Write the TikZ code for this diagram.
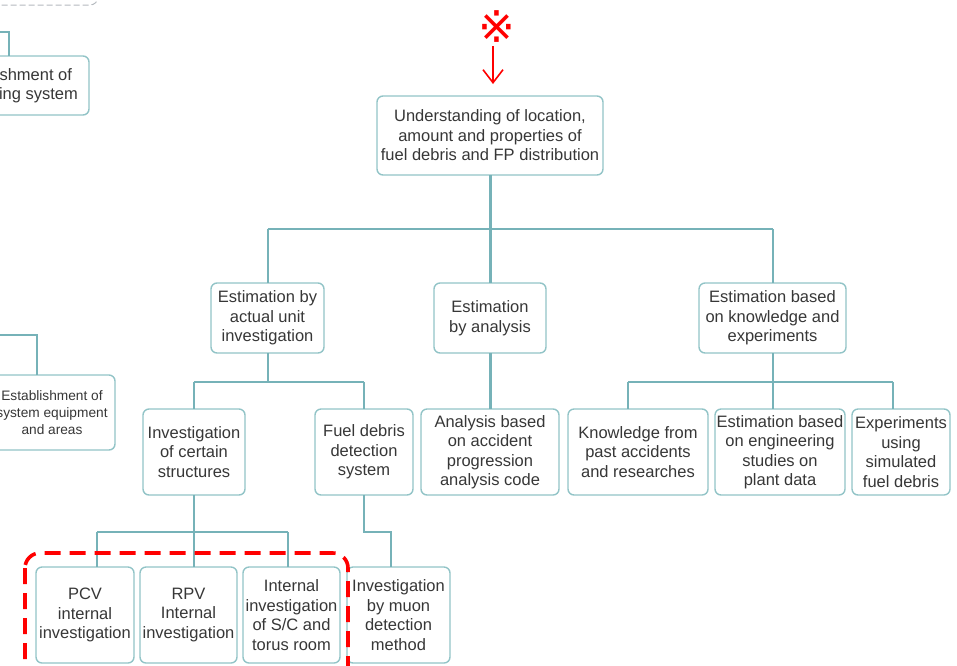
\documentclass[tikz,border=0pt]{standalone}
\usepackage{fontspec}
\setmainfont{Liberation Sans}
\newfontfamily\markfont{DejaVu Sans}
\usetikzlibrary{positioning,
                arrows.meta}
\definecolor{mteal}{RGB}{146,196,199}
\definecolor{mlink}{RGB}{118,178,184}
\definecolor{mtext}{RGB}{55,55,55}
\definecolor{mred}{RGB}{255,0,0}
\definecolor{mgray}{RGB}{180,185,190}
\tikzset{
    box/.style = {rectangle, draw=mteal, line width=1.4pt, rounded corners=6pt,
                  fill=white, text=mtext, align=center, inner sep=0pt, outer sep=0pt,
                  font=\fontsize{16.5}{19.5}\selectfont},
    smallbox/.style = {box, font=\fontsize{13.7}{17}\selectfont},
    link/.style = {draw=mlink, line width=2pt},
    trunk/.style = {draw=mlink, line width=3pt},
    focus/.style = {draw=mred, line width=3.6pt, dash pattern=on 16pt off 9pt,
                    rounded corners=15pt},
    pointer/.style = {draw=mred, line width=1.6pt, shorten <=3pt,
                      -{Straight Barb[length=13pt, width=20pt]}}
        }

\begin{document}
\begin{tikzpicture}[x=1pt, y=-1pt]
\useasboundingbox (0,0) rectangle (957,665);
\clip (0,0) rectangle (957,665);
% cut-off part on the left
\draw [mgray, line width=1pt, dash pattern=on 6pt off 3pt, rounded corners=8pt]
      (-20,-30) rectangle (98,5);
\node [box, minimum width=156pt, minimum height=59pt] (monitor) at (11,85.5)
      {Establishment of\\monitoring system};
\node [smallbox, minimum width=126pt, minimum height=75pt] (equip) at (52,412.5)
      {Establishment of\\system equipment\\and areas};
\coordinate (mc) at (9,32);
\coordinate (ec) at (37,335);
\draw [link] (-5,32) -- (mc) -- (mc |- monitor.north);
\draw [link] (-5,335) -- (ec) -- (ec |- equip.north);
% goal
\node [font=\markfont\fontsize{44}{44}\selectfont, text=mred, inner sep=0pt,
       anchor=south] (mark) at (497,43) {※};
\coordinate (tip) at (493,84);
\node [box, minimum width=226pt, minimum height=79pt] (goal) at (490,135.5)
      {Understanding of location,\\amount and properties of\\fuel debris and FP distribution};
\draw [pointer] (mark.south -| tip) -- (tip);
% level 1
\node [box, minimum width=113pt, minimum height=70pt] (actual) at (267.5,318)
      {Estimation by\\actual unit\\investigation};
\node [box, minimum width=112pt, minimum height=70pt, right=110pt of actual] (analysis)
      {Estimation\\by analysis};
\node [box, minimum width=147pt, minimum height=70pt, right=153pt of analysis] (knowledge)
      {Estimation based\\on knowledge and\\experiments};
% level 2
\node [box, minimum width=102pt, minimum height=86pt] (struct) at (194,452)
      {Investigation\\of certain\\structures};
\node [box, minimum width=98pt, minimum height=86pt, right=70pt of struct] (detect)
      {Fuel debris\\detection\\system};
\node [box, minimum width=138pt, minimum height=86pt, right=8pt of detect] (code)
      {Analysis based\\on accident\\progression\\analysis code};
\node [box, minimum width=140pt, minimum height=86pt, right=9pt of code] (past)
      {Knowledge from\\past accidents\\and researches};
\node [box, minimum width=130pt, minimum height=86pt, right=7pt of past] (plant)
      {Estimation based\\on engineering\\studies on\\plant data};
\node [box, minimum width=98pt, minimum height=86pt, right=7pt of plant] (simul)
      {Experiments\\using\\simulated\\fuel debris};
% level 3
\node [box, minimum width=98pt, minimum height=96pt] (pcv) at (85,615)
      {PCV\\internal\\investigation};
\node [box, minimum width=97pt, minimum height=96pt, right=6pt of pcv] (rpv)
      {RPV\\Internal\\investigation};
\node [box, minimum width=97pt, minimum height=96pt, right=6pt of rpv] (torus)
      {Internal\\investigation\\of S/C and\\torus room};
\node [box, minimum width=103pt, minimum height=96pt, right=7pt of torus] (muon)
      {Investigation\\by muon\\detection\\method};
% connectors
\coordinate (bus1) at (0,229);
\coordinate (bus2) at (0,382);
\coordinate (kl) at (628,382);
\coordinate (kr) at (893,382);
\coordinate (sl) at (97,532);
\coordinate (sr) at (288,532);
\coordinate (mu) at (391,532);
\draw [trunk] (goal.south) -- (analysis.north);
\draw [link] (actual.north |- bus1) -- (knowledge.north |- bus1);
\draw [link] (actual.north |- bus1) -- (actual.north);
\draw [link] (knowledge.north |- bus1) -- (knowledge.north);
\draw [link] (actual.south) -- (actual.south |- bus2);
\draw [link] (struct.north |- bus2) -- (detect.north |- bus2);
\draw [link] (struct.north |- bus2) -- (struct.north);
\draw [link] (detect.north |- bus2) -- (detect.north);
\draw [trunk] (analysis.south) -- (code.north);
\draw [link] (knowledge.south) -- (knowledge.south |- plant.north);
\draw [link] (kl) -- (kr);
\draw [link] (kl) -- (kl |- past.north);
\draw [link] (kr) -- (kr |- simul.north);
\draw [link] (struct.south) -- (struct.south |- rpv.north);
\draw [link] (sl) -- (sr);
\draw [link] (sl) -- (sl |- pcv.north);
\draw [link] (sr) -- (sr |- torus.north);
\draw [link] (detect.south) |- (mu) -- (mu |- muon.north);
% highlighted group
\draw [focus] (25,553) rectangle (348,690);
\end{tikzpicture}
\end{document}
